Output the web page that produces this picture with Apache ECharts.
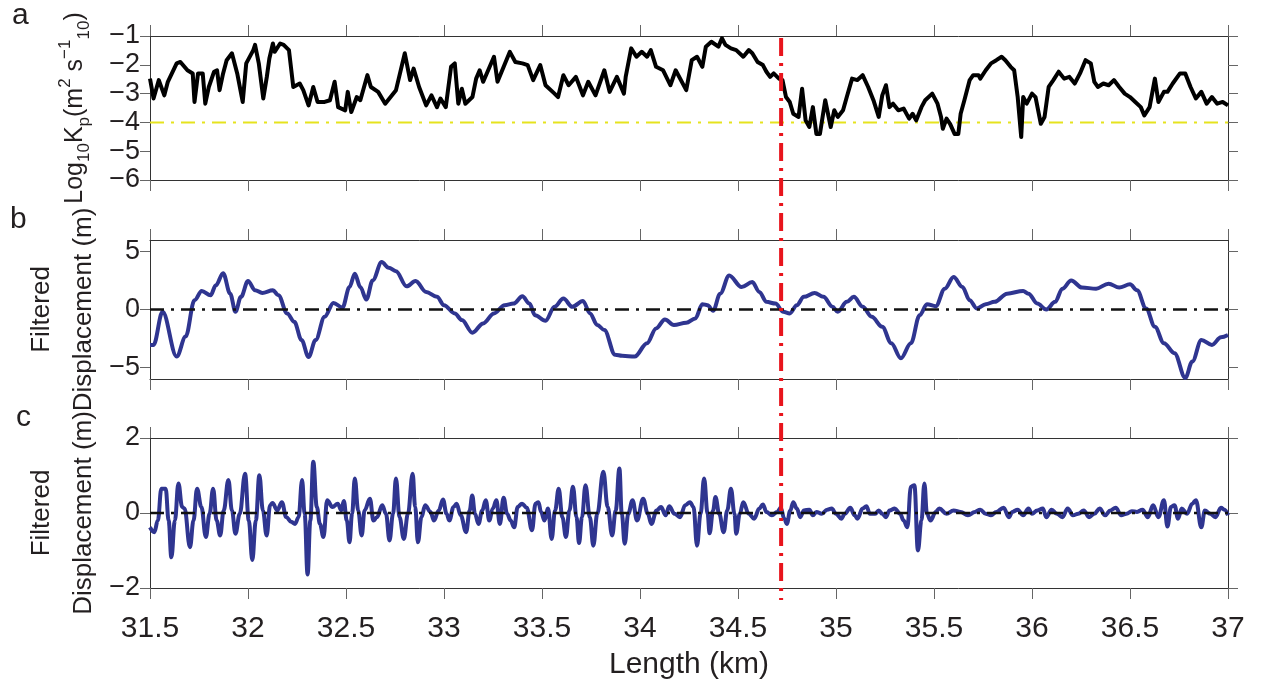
<!DOCTYPE html>
<html>
<head>
<meta charset="utf-8">
<script src="https://cdn.jsdelivr.net/npm/echarts@6/dist/echarts.min.js"></script>
<style>
  html, body { margin: 0; padding: 0; background: #fff; }
  #chart { width: 1266px; height: 694px; }
</style>
</head>
<body>
<div id="chart"></div>
<script>
  // panel a : log10 Kp along the profile
  const kmA = [
    31.500,31.518,31.545,31.573,31.591,31.636,31.655,31.691,31.718,31.727,
    31.745,31.769,31.782,31.800,31.827,31.842,31.855,31.873,31.891,31.918,
    31.945,31.973,31.991,32.027,32.036,32.055,32.078,32.096,32.109,32.127,
    32.136,32.164,32.182,32.209,32.231,32.264,32.282,32.309,32.333,32.355,
    32.391,32.418,32.442,32.460,32.496,32.509,32.527,32.555,32.573,32.609,
    32.627,32.664,32.700,32.755,32.800,32.827,32.845,32.873,32.909,32.936,
    32.964,32.982,33.009,33.036,33.055,33.073,33.091,33.109,33.145,33.164,
    33.182,33.200,33.255,33.273,33.336,33.364,33.400,33.427,33.455,33.491,
    33.518,33.564,33.582,33.609,33.636,33.673,33.709,33.736,33.773,33.818,
    33.845,33.882,33.918,33.927,33.955,33.982,34.009,34.036,34.055,34.082,
    34.118,34.155,34.182,34.236,
    34.264,34.291,34.318,34.336,34.364,34.373,34.400,34.418,34.436,34.464,
    34.491,34.527,34.555,34.573,34.600,34.627,34.645,34.664,34.682,34.709,
    34.727,34.745,34.764,34.782,34.809,34.827,34.845,34.864,34.882,34.900,
    34.918,34.945,34.973,34.991,35.009,35.036,35.055,35.082,35.109,35.136,
    35.164,35.191,35.218,35.236,35.255,35.273,35.291,35.318,35.345,35.373,
    35.391,35.409,35.436,35.455,35.491,35.518,35.536,35.545,35.564,35.582,
    35.605,35.624,35.636,35.655,35.682,35.700,35.727,35.736,35.764,35.791,
    35.818,35.845,35.864,35.891,35.909,35.927,35.945,35.955,35.973,36.000,
    36.018,36.045,36.064,36.085,36.109,36.136,36.164,36.191,36.218,36.245,
    36.273,36.300,36.318,36.336,36.364,36.391,36.418,36.445,36.473,36.500,
    36.527,36.555,36.573,36.600,36.627,36.645,36.673,36.691,36.718,36.755,
    36.782,36.809,36.836,36.864,36.891,36.918,36.945,36.973,37.000
  ];
  const logKp = [
    -2.48,-3.17,-2.53,-3.06,-2.59,-1.95,-1.90,-2.19,-2.30,-3.29,
    -2.30,-2.30,-3.35,-2.77,-2.24,-2.19,-2.88,-2.30,-1.84,-1.60,
    -2.30,-3.29,-1.95,-1.49,-1.31,-1.95,-3.17,-2.42,-1.78,-1.26,
    -1.55,-1.26,-1.31,-1.49,-2.77,-2.65,-2.88,-3.41,-2.77,-3.29,
    -3.29,-3.23,-2.59,-3.47,-3.58,-2.94,-3.64,-3.12,-3.23,-2.36,
    -2.77,-2.94,-3.35,-2.88,-1.60,-2.53,-2.13,-2.77,-3.41,-3.06,
    -3.47,-3.17,-3.47,-2.07,-1.95,-3.35,-2.83,-3.35,-3.12,-2.48,
    -2.19,-2.59,-1.72,-2.59,-1.55,-1.90,-1.95,-2.01,-2.53,-2.01,
    -2.71,-3.00,-3.12,-2.36,-2.71,-2.42,-3.06,-2.59,-3.06,-2.19,
    -2.94,-2.42,-3.00,-2.42,-1.43,-1.72,-1.55,-1.72,-1.49,-2.07,
    -2.19,-2.71,-2.19,-2.88,
    -1.84,-1.72,-2.07,-1.37,-1.20,-1.14,-1.37,-1.08,-1.31,-1.43,
    -1.49,-1.72,-1.49,-1.60,-1.90,-2.01,-2.24,-2.42,-2.30,-2.48,
    -2.53,-3.12,-3.29,-3.70,-3.81,-2.83,-3.93,-4.16,-3.47,-4.40,
    -4.40,-3.23,-4.16,-3.58,-3.81,-3.58,-3.12,-2.48,-2.53,-2.36,
    -2.77,-3.23,-3.81,-3.06,-2.71,-3.47,-3.35,-3.58,-3.52,-3.87,
    -3.70,-3.93,-3.47,-3.23,-3.00,-3.35,-3.81,-4.22,-3.87,-4.05,
    -4.40,-4.40,-3.70,-3.23,-2.53,-2.36,-2.36,-2.48,-2.19,-1.95,
    -1.84,-1.72,-1.84,-2.07,-2.19,-3.12,-4.51,-3.12,-3.35,-3.00,
    -3.12,-4.05,-3.81,-2.77,-2.53,-2.24,-2.48,-2.42,-2.65,-2.30,
    -1.84,-1.95,-2.59,-2.77,-2.65,-2.71,-2.53,-2.77,-3.00,-3.12,
    -3.29,-3.47,-3.76,-3.47,-2.48,-3.29,-2.94,-2.94,-2.65,-2.30,
    -2.30,-2.77,-3.17,-2.94,-3.35,-3.12,-3.35,-3.29,-3.41
  ];

  // panel b : filtered displacement (long wavelength)
  const kmB = [
    31.500,31.518,31.564,31.636,31.682,31.727,31.764,31.809,31.836,31.873,
    31.909,31.936,31.964,32.000,32.036,32.073,32.127,32.155,32.200,32.236,
    32.273,32.309,32.345,32.391,32.436,32.482,32.518,32.545,32.573,32.604,
    32.636,32.682,32.718,32.755,32.809,32.855,32.909,32.964,33.000,33.055,
    33.091,33.145,33.200,33.255,33.309,33.355,33.400,33.436,33.464,33.518,
    33.564,33.609,33.655,33.709,33.745,33.782,33.818,33.873,33.909,33.973,
    34.036,34.082,34.127,34.173,34.236,
    34.282,34.318,34.345,34.373,34.409,34.455,34.518,34.573,34.609,34.645,
    34.691,34.731,34.764,34.800,34.836,34.891,34.936,34.982,35.009,35.055,
    35.091,35.136,35.182,35.236,35.282,35.331,35.382,35.427,35.464,35.509,
    35.555,35.600,35.645,35.682,35.718,35.764,35.809,35.873,35.955,35.982,
    36.027,36.073,36.118,36.155,36.200,36.255,36.327,36.391,36.445,36.500,
    36.536,36.582,36.627,36.673,36.727,36.782,36.818,36.864,36.918,36.964,
    37.000
  ];
  const dispB = [
    -3.06,-3.06,-0.20,-4.06,-2.34,0.80,1.60,1.23,2.09,3.14,
    1.37,-0.20,1.09,2.46,1.66,1.43,1.66,1.23,-0.34,-1.06,
    -2.63,-4.11,-2.63,-0.63,0.57,0.17,1.94,3.09,1.94,0.86,
    2.51,4.09,3.60,3.31,2.00,2.46,1.51,1.09,0.37,-0.34,
    -0.91,-2.00,-1.20,-0.34,0.37,0.51,1.14,0.51,-0.49,-0.97,
    0.23,0.94,0.23,0.74,-0.34,-1.34,-1.77,-3.91,-4.00,-4.06,
    -2.91,-1.63,-0.86,-1.34,-1.14,
    -0.77,0.46,0.37,-0.11,1.37,2.94,1.94,2.37,1.51,0.66,
    0.51,-0.20,-0.34,0.37,1.09,1.43,1.09,0.23,-0.20,0.66,
    1.09,0.23,-0.63,-1.49,-2.91,-4.20,-2.91,-0.49,0.46,0.29,
    1.80,2.80,1.94,0.80,0.09,0.46,0.66,1.37,1.60,1.37,
    0.51,0.00,0.66,1.80,2.51,1.89,1.80,2.23,1.89,2.17,
    1.66,0.09,-1.49,-2.91,-3.77,-5.91,-4.49,-2.63,-3.06,-2.40,
    -2.20
  ];

  // panel c : filtered displacement (short wavelength)
  const kmC = [
    31.500,31.522,31.540,31.558,31.580,31.595,31.609,31.627,31.645,31.664,
    31.676,31.704,31.722,31.740,31.762,31.785,31.804,31.822,31.840,31.858,
    31.876,31.900,31.918,31.936,31.958,31.985,32.004,32.022,32.040,32.058,
    32.076,32.095,32.113,32.125,32.149,32.173,32.195,32.222,32.240,32.258,
    32.276,32.289,32.304,32.318,32.333,32.351,32.367,32.385,32.404,32.431,
    32.458,32.476,32.489,32.504,32.518,32.531,32.545,32.562,32.580,32.595,
    32.622,32.640,32.658,32.685,32.704,32.722,32.740,32.755,32.773,32.795,
    32.816,32.840,32.853,32.867,32.885,32.904,32.931,32.949,32.973,32.995,
    33.013,33.027,33.049,33.064,33.085,33.113,33.131,33.144,33.158,33.176,
    33.195,33.213,33.231,33.249,33.267,33.285,33.304,33.322,33.340,33.358,
    33.376,33.398,33.422,33.449,33.467,33.482,33.495,33.513,33.531,33.549,
    33.567,33.585,33.604,33.622,33.640,33.658,33.676,33.689,33.704,33.722,
    33.744,33.762,33.782,33.813,33.835,33.858,33.876,33.895,33.907,33.922,
    33.940,33.962,33.985,34.016,34.040,34.058,34.085,34.107,34.131,34.149,
    34.176,34.204,34.231,
    34.255,34.273,34.291,34.309,34.327,34.345,34.355,34.373,34.385,34.404,
    34.427,34.445,34.464,34.482,34.491,34.509,34.527,34.555,34.582,34.609,
    34.627,34.645,34.673,34.700,34.718,34.736,34.749,34.767,34.782,34.800,
    34.818,34.836,34.864,34.882,34.900,34.927,34.955,34.978,35.000,35.027,
    35.045,35.073,35.095,35.109,35.136,35.155,35.173,35.200,35.218,35.236,
    35.255,35.273,35.300,35.327,35.345,35.364,35.382,35.400,35.418,35.436,
    35.451,35.464,35.482,35.509,35.527,35.564,35.600,35.636,35.673,35.709,
    35.736,35.764,35.791,35.818,35.855,35.882,35.900,35.927,35.955,35.982,
    36.000,36.027,36.055,36.073,36.100,36.127,36.155,36.182,36.209,36.236,
    36.264,36.291,36.318,36.345,36.373,36.400,36.427,36.455,36.482,36.509,
    36.536,36.564,36.591,36.618,36.645,36.673,36.691,36.709,36.727,36.745,
    36.764,36.791,36.818,36.836,36.864,36.882,36.909,36.936,36.964,36.982,
    37.000
  ];
  const dispC = [
    -0.38,-0.51,-0.20,0.65,0.65,-0.20,-1.18,-0.20,0.79,0.16,
    0.12,-0.91,-0.20,0.65,0.16,-0.64,-0.02,0.65,-0.20,-0.60,
    0.07,0.88,0.07,-0.55,-0.02,1.05,-0.20,-1.25,-0.20,1.01,
    0.07,-0.60,0.21,0.27,0.07,0.29,-0.11,-0.24,-0.29,-0.11,
    0.88,-0.02,-1.64,-0.20,1.37,0.16,-0.29,-0.64,0.34,0.16,
    0.25,0.07,0.32,-0.20,-0.78,-0.02,0.92,0.07,-0.60,0.07,
    0.38,-0.20,-0.11,0.21,-0.02,-0.73,-0.02,0.92,-0.11,-0.69,
    -0.02,1.05,0.16,-0.78,-0.11,0.21,0.03,-0.20,0.07,0.36,
    -0.02,-0.20,0.16,0.25,-0.06,-0.51,0.07,0.47,-0.02,-0.29,
    0.07,0.34,-0.20,0.12,0.34,-0.29,0.41,-0.02,-0.20,-0.38,
    0.16,0.25,0.14,-0.46,0.25,0.29,0.03,-0.20,0.12,-0.69,
    0.07,0.65,-0.11,-0.64,0.07,0.70,-0.11,-0.80,-0.11,0.74,
    -0.11,-0.87,-0.02,1.10,0.16,-0.60,0.07,1.19,-0.02,-0.82,
    -0.02,0.34,-0.20,0.38,-0.02,-0.29,0.07,0.16,-0.06,0.18,
    -0.02,-0.11,0.21,
    0.29,0.16,-0.87,-0.02,0.92,-0.02,-0.54,0.07,0.43,-0.02,
    -0.51,0.07,0.65,-0.02,-0.55,-0.02,0.29,-0.02,-0.15,0.12,
    0.23,0.03,-0.06,0.03,0.14,-0.15,-0.29,0.07,0.29,0.12,
    -0.11,0.07,0.09,-0.06,0.03,-0.02,0.09,0.12,-0.02,-0.15,
    -0.02,0.14,-0.06,-0.15,0.12,0.18,-0.02,-0.02,0.07,-0.02,
    -0.11,0.07,0.12,-0.02,-0.20,-0.38,0.70,0.74,-1.00,-0.20,
    0.79,-0.02,-0.20,0.03,0.12,-0.02,0.07,0.03,-0.06,0.03,
    0.09,-0.02,-0.06,0.03,0.14,-0.11,0.03,0.09,-0.06,0.12,
    -0.02,0.07,0.12,-0.11,0.09,-0.02,-0.11,0.12,-0.06,-0.02,
    0.07,-0.11,-0.02,0.12,-0.06,0.07,0.14,-0.06,-0.02,0.05,
    0.03,0.09,-0.11,0.21,-0.11,0.34,-0.36,0.16,0.21,-0.15,
    0.12,-0.02,0.25,0.34,-0.38,0.07,-0.02,-0.11,0.14,0.09,
    -0.06
  ];

  // reference lines
  const refKm = [31.5, 37];
  const kpLimit = -4;
  const faultKm = 34.72;

  // tick labels
  const yTicksA = [-6, -5, -4, -3, -2, -1];
  const yTicksB = [-5, 0, 5];
  const yTicksC = [-2, 0, 2];

  const FONT = "'Liberation Sans Narrow', 'Liberation Sans', Arial, sans-serif";
  const TXT = '#231f20';
  const BLUE = '#2f3590';

  const zip = (xs, ys) => xs.map((x, i) => [x, ys[i]]);
  const minus = v => (v < 0 ? '\u2212' + Math.abs(v) : String(v));

  const panels = [
    { top: 36, height: 144, min: -6, max: -1, ticks: yTicksA },
    { top: 240, height: 139, min: -6, max: 6, ticks: yTicksB },
    { top: 438, height: 150, min: -2, max: 2, ticks: yTicksC }
  ];

  const grids = panels.map(p => ({ left: 150, right: 38, top: p.top, height: p.height }));
  // overlay grid for the vertical line crossing all panels
  grids.push({ left: 150, right: 38, top: 38, height: 562 });

  const lineStyleAxis = { show: true, onZero: false, lineStyle: { color: '#333', width: 1 } };
  const tickStyle = { color: '#666', width: 1 };

  const xAxes = [];
  const yAxes = [];
  // bottom x axes 0..2
  panels.forEach((p, i) => {
    xAxes.push({
      type: 'value', gridIndex: i, position: 'bottom',
      min: 31.5, max: 37, interval: 0.5,
      axisLine: lineStyleAxis,
      axisTick: { show: true, inside: false, length: 11, lineStyle: tickStyle },
      axisLabel: { show: i === 2, margin: 26, fontSize: 30, fontFamily: FONT, color: TXT },
      splitLine: { show: false },
      name: i === 2 ? 'Length (km)' : '',
      nameLocation: 'middle', nameGap: 62,
      nameTextStyle: { fontSize: 30, fontFamily: FONT, color: TXT }
    });
  });
  // top x axes 3..5
  panels.forEach((p, i) => {
    xAxes.push({
      type: 'value', gridIndex: i, position: 'top',
      min: 31.5, max: 37, interval: 0.5,
      axisLine: lineStyleAxis,
      axisTick: { show: true, inside: false, length: 11, lineStyle: tickStyle },
      axisLabel: { show: false }, splitLine: { show: false }
    });
  });
  xAxes.push({ type: 'value', gridIndex: 3, min: 31.5, max: 37, show: false });

  const richName = {
    n: { fontSize: 25, lineHeight: 36, fontFamily: FONT, color: TXT },
    s: { fontSize: 17, lineHeight: 17, verticalAlign: 'bottom', fontFamily: FONT, color: TXT },
    u: { fontSize: 17, lineHeight: 17, verticalAlign: 'top', fontFamily: FONT, color: TXT }
  };
  const names = [
    '{n|Log}{s|10}{n|K}{s|p}{n|(m}{u|2}{n| s}{u|\u22121}{s|10}{n|)}',
    'Filtered\nDisplacement (m)',
    'Filtered\nDisplacement (m)'
  ];

  // left y axes 0..2
  panels.forEach((p, i) => {
    yAxes.push({
      type: 'value', gridIndex: i, position: 'left',
      min: p.min, max: p.max,
      axisLine: lineStyleAxis,
      axisTick: { show: true, inside: false, length: 10, lineStyle: tickStyle, customValues: p.ticks },
      axisLabel: { margin: 10, fontSize: 27, fontFamily: FONT, color: TXT, customValues: p.ticks, formatter: minus },
      splitLine: { show: false },
      name: names[i], nameLocation: 'middle', nameRotate: 90,
      nameGap: i === 0 ? 57 : 45,
      nameMoveOverlap: i === 0,
      nameTextStyle: i === 0
        ? { rich: richName }
        : { fontSize: 26, lineHeight: 42, fontFamily: FONT, color: TXT }
    });
  });
  // right y axes 3..5
  panels.forEach((p, i) => {
    yAxes.push({
      type: 'value', gridIndex: i, position: 'right',
      min: p.min, max: p.max,
      axisLine: lineStyleAxis,
      axisTick: { show: true, inside: false, length: 10, lineStyle: tickStyle, customValues: p.ticks },
      axisLabel: { show: false }, splitLine: { show: false }
    });
  });
  yAxes.push({ type: 'value', gridIndex: 3, min: 0, max: 1, show: false });

  const dashDot = [14, 7, 3, 7];

  const option = {
    animation: false,
    backgroundColor: '#fff',
    grid: grids,
    xAxis: xAxes,
    yAxis: yAxes,
    graphic: [
      { type: 'text', left: 12, top: 1, style: { text: 'a', fontSize: 30, fontFamily: FONT, fill: TXT } },
      { type: 'text', left: 10, top: 205, style: { text: 'b', fontSize: 30, fontFamily: FONT, fill: TXT } },
      { type: 'text', left: 16, top: 403, style: { text: 'c', fontSize: 30, fontFamily: FONT, fill: TXT } }
    ],
    series: [
      {
        name: 'log10 Kp', type: 'line', xAxisIndex: 0, yAxisIndex: 0,
        data: zip(kmA, logKp), showSymbol: false, symbol: 'none',
        lineStyle: { color: '#000', width: 4, join: 'round' }, z: 3
      },
      {
        name: 'Kp limit', type: 'line', xAxisIndex: 0, yAxisIndex: 0,
        data: refKm.map(x => [x, kpLimit]), symbol: 'none',
        lineStyle: { color: '#e6e31e', width: 2, type: dashDot }, z: 2
      },
      {
        name: 'filtered b', type: 'line', xAxisIndex: 1, yAxisIndex: 1,
        data: zip(kmB, dispB), symbol: 'none', smooth: 0.35, smoothMonotone: 'x',
        lineStyle: { color: BLUE, width: 4 }, z: 3
      },
      {
        name: 'zero b', type: 'line', xAxisIndex: 1, yAxisIndex: 1,
        data: refKm.map(x => [x, 0]), symbol: 'none',
        lineStyle: { color: '#111', width: 2.5, type: dashDot }, z: 4
      },
      {
        name: 'filtered c', type: 'line', xAxisIndex: 2, yAxisIndex: 2,
        data: zip(kmC, dispC), symbol: 'none', smooth: 0.4, smoothMonotone: 'x',
        lineStyle: { color: BLUE, width: 4 }, z: 3
      },
      {
        name: 'zero c', type: 'line', xAxisIndex: 2, yAxisIndex: 2,
        data: refKm.map(x => [x, 0]), symbol: 'none',
        lineStyle: { color: '#111', width: 2.5, type: dashDot }, z: 4
      },
      {
        name: 'boundary', type: 'line', xAxisIndex: 6, yAxisIndex: 6,
        data: [[faultKm, 1], [faultKm, 0]], symbol: 'none',
        lineStyle: { color: '#e8141c', width: 4, type: [18, 7, 3, 7] }, z: 10
      }
    ]
  };

  const chart = echarts.init(document.getElementById('chart'), null, { renderer: 'canvas' });
  chart.setOption(option);
</script>
</body>
</html>
